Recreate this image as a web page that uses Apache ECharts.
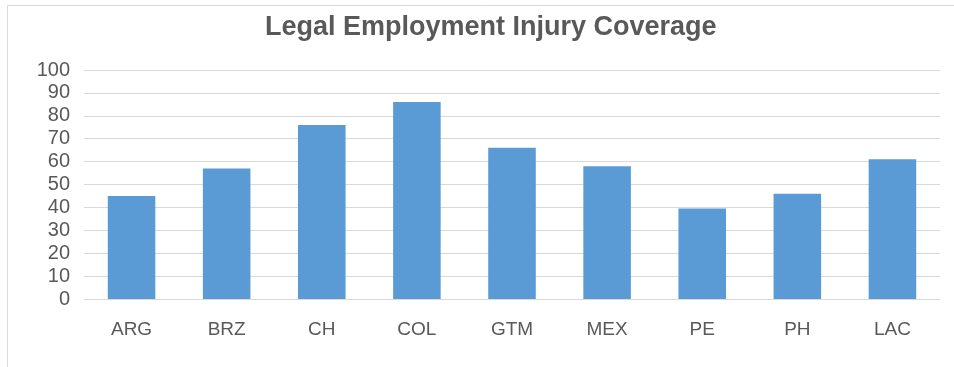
<!DOCTYPE html>
<html>
<head>
<meta charset="utf-8">
<script src="https://cdn.jsdelivr.net/npm/echarts@6/dist/echarts.min.js"></script>
<style>
html,body{margin:0;padding:0;background:#fff;}
#chart{width:954px;height:367px;}
</style>
</head>
<body>
<div id="chart"></div>
<script>
const titleText = "Legal Employment Injury Coverage";
const categories = ["ARG","BRZ","CH","COL","GTM","MEX","PE","PH","LAC"];
const coverage = [45, 57, 76, 86, 66, 58, 39.5, 46, 61];
const yTicks = [0, 10, 20, 30, 40, 50, 60, 70, 80, 90, 100];

const chart = echarts.init(document.getElementById('chart'));
chart.setOption({
  animation: false,
  backgroundColor: '#fff',
  graphic: [{
    type: 'rect',
    shape: {x: 7.5, y: 5.5, width: 1000, height: 400},
    style: {fill: 'none', stroke: '#d9d9d9', lineWidth: 1},
    silent: true
  }],
  title: {
    text: titleText,
    left: 260,
    top: 9,
    textStyle: {fontFamily: 'Liberation Sans', fontWeight: 'bold', fontSize: 27, color: '#595959'}
  },
  grid: {left: 84, right: 14, top: 70, bottom: 68, containLabel: false},
  xAxis: {
    type: 'category',
    data: categories,
    axisLine: {lineStyle: {color: '#d9d9d9', width: 1}},
    axisTick: {show: false},
    axisLabel: {color: '#595959', fontSize: 19, fontFamily: 'Liberation Sans', margin: 21}
  },
  yAxis: {
    type: 'value',
    min: yTicks[0],
    max: yTicks[yTicks.length - 1],
    interval: 10,
    axisLine: {show: false},
    axisTick: {show: false},
    axisLabel: {color: '#595959', fontSize: 20, fontFamily: 'Liberation Sans', margin: 14},
    splitLine: {lineStyle: {color: '#d9d9d9', width: 1}}
  },
  series: [{
    type: 'bar',
    data: coverage,
    barCategoryGap: '50%',
    itemStyle: {color: '#5b9bd5'}
  }]
});
</script>
</body>
</html>
